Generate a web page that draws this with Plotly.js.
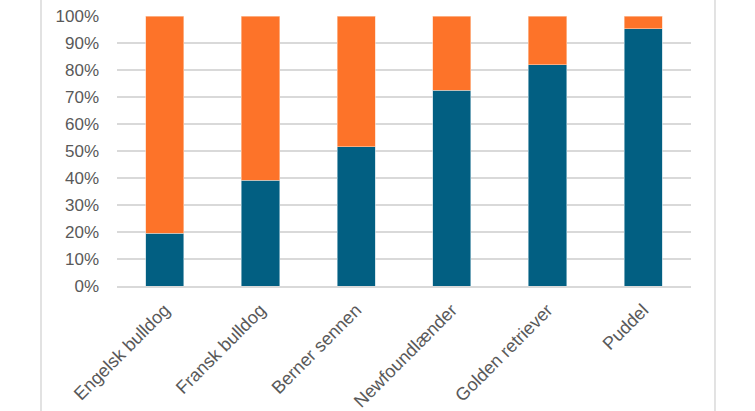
<!DOCTYPE html>
<html>
<head>
<meta charset="utf-8">
<script src="https://cdn.plot.ly/plotly-3.0.1.min.js"></script>
<style>html,body{margin:0;padding:0;background:#fff;}#chart{width:755px;height:411px;}</style>
</head>
<body>
<div id="chart"></div>
<script>
const categories = ["Engelsk bulldog", "Fransk bulldog", "Berner sennen", "Newfoundlænder", "Golden retriever", "Puddel"];
const blueValues = [0.195, 0.392, 0.515, 0.725, 0.82, 0.952];
const orangeValues = blueValues.map(v => 1 - v);
const yTickVals = [0, 0.1, 0.2, 0.3, 0.4, 0.5, 0.6, 0.7, 0.8, 0.9, 1.0];
const yTickText = ["0%", "10%", "20%", "30%", "40%", "50%", "60%", "70%", "80%", "90%", "100%"];

const traces = [
  {type: "bar", x: categories, y: blueValues, marker: {color: "#025f82", line: {color: "#bcd6e0", width: 0.6}}, hoverinfo: "none"},
  {type: "bar", x: categories, y: orangeValues, marker: {color: "#fd7329", line: {color: "#fdd2b8", width: 0.6}}, hoverinfo: "none"}
];
const layout = {
  width: 755, height: 411,
  barmode: "stack", bargap: 0.6,
  showlegend: false,
  paper_bgcolor: "#fff", plot_bgcolor: "#fff",
  margin: {l: 117, r: 64, t: 16, b: 125, pad: 0},
  font: {family: "Liberation Sans, Arial, sans-serif", color: "#595959", size: 17},
  xaxis: {tickangle: -45, showgrid: false, zeroline: false, showline: true, linecolor: "#d9d9d9", linewidth: 1.5, ticks: "", ticklabelstandoff: 5, tickfont: {size: 18, color: "#595959"}},
  yaxis: {range: [0, 1], tickvals: yTickVals, ticktext: yTickText, showgrid: true, gridcolor: "#d9d9d9", gridwidth: 1.5, zeroline: false, showline: false, ticks: "", ticklabelstandoff: 17, tickfont: {size: 17, color: "#595959"}},
  shapes: [
    {type: "line", xref: "paper", yref: "paper", x0: -0.1324, x1: -0.1324, y0: -0.5, y1: 1.1, line: {color: "#d9d9d9", width: 1.5}},
    {type: "line", xref: "paper", yref: "paper", x0: 1.0418, x1: 1.0418, y0: -0.5, y1: 1.1, line: {color: "#d9d9d9", width: 1.5}}
  ]
};
Plotly.newPlot("chart", traces, layout, {staticPlot: true, displayModeBar: false});
</script>
</body>
</html>
